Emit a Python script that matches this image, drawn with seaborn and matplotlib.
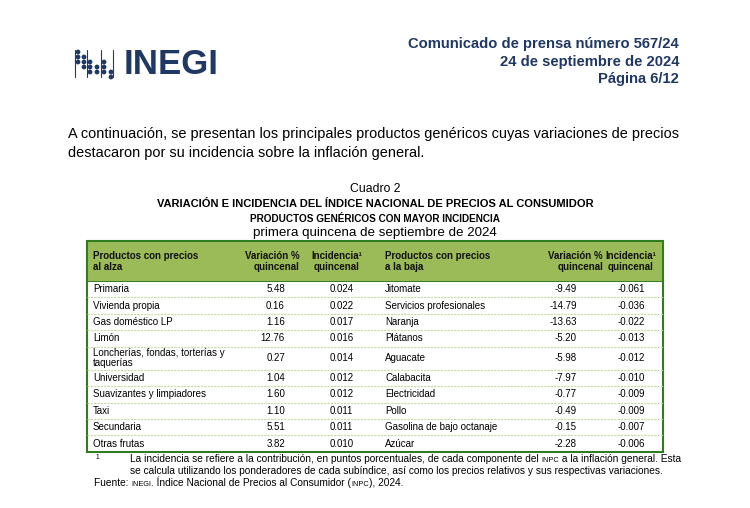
import matplotlib
matplotlib.use("Agg")
import matplotlib.pyplot as plt
import seaborn as sns
import pandas as pd
from matplotlib.patches import Rectangle, Circle

# ---------------- data ----------------
alza_productos = ["Primaria", "Vivienda propia", "Gas doméstico LP", "Limón",
                  "Loncherías, fondas, torterías y\ntaquerías", "Universidad",
                  "Suavizantes y limpiadores", "Taxi", "Secundaria", "Otras frutas"]
alza_variacion = [5.48, 0.16, 1.16, 12.76, 0.27, 1.04, 1.60, 1.10, 5.51, 3.82]
alza_incidencia = [0.024, 0.022, 0.017, 0.016, 0.014, 0.012, 0.012, 0.011, 0.011, 0.010]

baja_productos = ["Jitomate", "Servicios profesionales", "Naranja", "Plátanos", "Aguacate",
                  "Calabacita", "Electricidad", "Pollo", "Gasolina de bajo octanaje", "Azúcar"]
baja_variacion = [-9.49, -14.79, -13.63, -5.20, -5.98, -7.97, -0.77, -0.49, -0.15, -2.28]
baja_incidencia = [-0.061, -0.036, -0.022, -0.013, -0.012, -0.010, -0.009, -0.009, -0.007, -0.006]

encabezados = ["Productos con precios\nal alza", "Variación %\nquincenal", "Incidencia¹\nquincenal",
               "Productos con precios\na la baja", "Variación %\nquincenal", "Incidencia¹\nquincenal"]

comunicado = ["Comunicado de prensa número 567/24", "24 de septiembre de 2024", "Página 6/12"]
parrafo = ["A continuación, se presentan los principales productos genéricos cuyas variaciones de precios",
           "destacaron por su incidencia sobre la inflación general."]
titulos = ["Cuadro 2", "VARIACIÓN E INCIDENCIA DEL ÍNDICE NACIONAL DE PRECIOS AL CONSUMIDOR",
           "PRODUCTOS GENÉRICOS CON MAYOR INCIDENCIA", "primera quincena de septiembre de 2024"]

df = pd.DataFrame({"alza": alza_productos, "var_a": alza_variacion, "inc_a": alza_incidencia,
                   "baja": baja_productos, "var_b": baja_variacion, "inc_b": baja_incidencia})

# ---------------- style ----------------
sns.set_theme(style="white")
plt.rcParams["font.family"] = ["Liberation Sans", "DejaVu Sans"]

NAVY = "#1f3864"
BORDER = "#2f7d1f"
HEADFILL = "#9bbb59"
SEP = "#c6dba0"

fig = plt.figure(figsize=(7.5, 5.08), dpi=100)
ax = fig.add_axes([0, 0, 1, 1])
ax.set_xlim(0, 750)
ax.set_ylim(508, 0)
ax.axis("off")

# ---------------- logo ----------------
logo_cols = [(78, [52, 57, 62], True), (84, [57, 62, 67], False), (90, [62, 67, 72], True),
             (97, [67, 72], False), (104, [62, 67, 72], True), (111, [72, 77], False), (116, [], True)]
for x, ys, line in logo_cols:
    if line:
        ax.plot([x - 2.6, x - 2.6], [50, 77], color=NAVY, lw=0.8)
    for y in ys:
        ax.add_patch(Circle((x, y), 2.4, color=NAVY, lw=0))
ax.text(124, 64, "INEGI", fontsize=25, fontweight="heavy", color=NAVY, va="center", ha="left")

# ---------------- header right ----------------
for y, s in zip([44, 62, 79], comunicado):
    ax.text(679, y, s, fontsize=10.6, fontweight="bold", color=NAVY, ha="right", va="center")

# ---------------- paragraph ----------------
for y, s in zip([134, 153], parrafo):
    ax.text(68, y, s, fontsize=10.45, color="black", ha="left", va="center")

# ---------------- titles ----------------
ax.text(375, 189, titulos[0], fontsize=8.8, color="black", ha="center", va="center")
ax.text(375, 204, titulos[1], fontsize=8.05, fontweight="bold", color="black", ha="center", va="center")
ax.text(375, 219, titulos[2], fontsize=7.2, fontweight="bold", color="black", ha="center", va="center")
ax.text(375, 233, titulos[3], fontsize=9.6, color="black", ha="center", va="center")

# ---------------- table ----------------
x0, x1 = 86.5, 663
top, head_bot = 241, 281
row_h = [23.3 if "\n" in p else 16.4 for p in df["alza"]]

ax.add_patch(Rectangle((x0, top), x1 - x0, head_bot - top, facecolor=HEADFILL, edgecolor="none"))

hx = [(93, "left"), (300, "right"), (337, "center"), (385, "left"), (603, "right"), (631, "center")]
for (x, ha), s in zip(hx, encabezados):
    ax.text(x, 261.5, s, fontsize=7.0, fontweight="bold", color="#111111", ha=ha, va="center",
            linespacing=1.2)

fs = 7.0
y = head_bot
edges = []
for i, r in df.iterrows():
    h = row_h[i]
    yc = y + h / 2
    ax.text(93, yc, r["alza"], fontsize=fs, color="black", ha="left", va="center", linespacing=1.05)
    ax.text(285, yc, f"{r['var_a']:.2f}", fontsize=fs, color="black", ha="right", va="center")
    ax.text(353.5, yc, f"{r['inc_a']:.3f}", fontsize=fs, color="black", ha="right", va="center")
    ax.text(385, yc, r["baja"], fontsize=fs, color="black", ha="left", va="center")
    ax.text(577, yc, f"{r['var_b']:.2f}", fontsize=fs, color="black", ha="right", va="center")
    ax.text(645, yc, f"{r['inc_b']:.3f}", fontsize=fs, color="black", ha="right", va="center")
    y += h
    edges.append(y)

for e in edges[:-1]:
    ax.plot([x0, x1], [e, e], color=SEP, lw=0.8, linestyle=(0, (2, 1)))

bottom = edges[-1]
ax.plot([x0, x1], [head_bot, head_bot], color=BORDER, lw=0.7)
ax.add_patch(Rectangle((x0, top), x1 - x0, bottom - top, facecolor="none", edgecolor=BORDER, lw=1.5))

# ---------------- footnotes ----------------
ax.text(97, 457.5, "1", fontsize=4.8, color="black", ha="center", va="center")

def chain(x, y, parts):
    prev = ax.text(x, y, parts[0][0], fontsize=parts[0][1], color="black", ha="left", va="bottom")
    for s, size in parts[1:]:
        prev = ax.annotate(s, xy=(1, 0), xycoords=prev, fontsize=size, color="black",
                           ha="left", va="bottom")

FN = 7.3
SM = 5.3
chain(130, 463.5, [("La incidencia se refiere a la contribución, en puntos porcentuales, de cada componente del ", FN),
                   ("INPC", SM), (" a la inflación general. Esta", FN)])
chain(130, 476.5, [("se calcula utilizando los ponderadores de cada subíndice, así como los precios relativos y sus respectivas variaciones.", FN)])
chain(94, 487.5, [("Fuente: ", FN), ("INEGI", SM), (". Índice Nacional de Precios al Consumidor (", FN),
                  ("INPC", SM), ("), 2024.", FN)])

fig.savefig("out.png", dpi=100, facecolor="white")
